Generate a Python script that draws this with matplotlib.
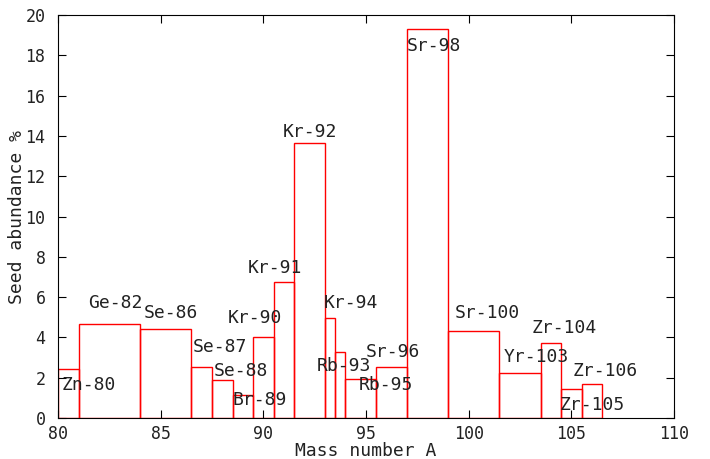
import numpy as np
import matplotlib
matplotlib.use("Agg")
import matplotlib.pyplot as plt

# box edges (mass number) and heights
left_edges = [80.0, 81.0, 84.0, 86.5, 87.5, 88.5, 89.5, 90.5, 91.5, 93.0,
              93.5, 94.0, 95.5, 97.0, 99.0, 101.5, 103.5, 104.5, 105.5]
right_edges = [81.0, 84.0, 86.5, 87.5, 88.5, 89.5, 90.5, 91.5, 93.0, 93.5,
               94.0, 95.5, 97.0, 99.0, 101.5, 103.5, 104.5, 105.5, 106.5]
abundance = [2.42, 4.65, 4.40, 2.52, 1.89, 1.16, 4.03, 6.77, 13.66, 4.98,
             3.29, 1.92, 2.53, 19.29, 4.30, 2.23, 3.71, 1.44, 1.67]

# isotope labels and where they sit
labels = ["Zn-80", "Ge-82", "Se-86", "Se-87", "Se-88", "Br-89", "Kr-90",
          "Kr-91", "Kr-92", "Kr-94", "Rb-93", "Rb-95", "Sr-96", "Sr-98",
          "Sr-100", "Yr-103", "Zr-104", "Zr-105", "Zr-106"]
label_x = [80.2, 81.45, 84.2, 86.55, 87.6, 88.5, 88.25, 89.25, 90.95, 92.95,
           92.6, 94.65, 95.0, 97.0, 99.3, 101.7, 103.05, 104.45, 105.05]
label_y = [1.64, 5.7, 5.2, 3.5, 2.33, 0.9, 4.96, 7.44, 14.2, 5.7,
           2.58, 1.64, 3.28, 18.46, 5.2, 3.03, 4.47, 0.64, 2.33]

mono = "DejaVu Sans Mono"
plt.rcParams['font.family'] = mono
plt.rcParams['font.size'] = 13

fig = plt.figure(figsize=(7.1, 4.59), dpi=100)
ax = fig.add_axes([0.0817, 0.0893, 0.8676, 0.878])

left = np.array(left_edges)
widths = np.array(right_edges) - left
ax.bar(left, abundance, width=widths, align='edge', fill=False,
       edgecolor='red', linewidth=1.0)

for lab, x, y in zip(labels, label_x, label_y):
    ax.text(x, y, lab, ha='left', va='center', fontsize=13, color='#222222')

ax.set_xlim(80, 110)
ax.set_ylim(0, 20)
ax.set_xticks(np.arange(80, 111, 5))
ax.set_yticks(np.arange(0, 21, 2))
ax.tick_params(direction='in', length=6, top=True, right=True, labelsize=12,
               labelcolor='#222222')
ax.tick_params(axis='x', pad=5)
ax.tick_params(axis='y', pad=9)
ax.set_xlabel("Mass number A", labelpad=-1, color='#222222')
ax.set_ylabel("Seed abundance %", labelpad=0, color='#222222')

fig.savefig("out.png", dpi=100)
